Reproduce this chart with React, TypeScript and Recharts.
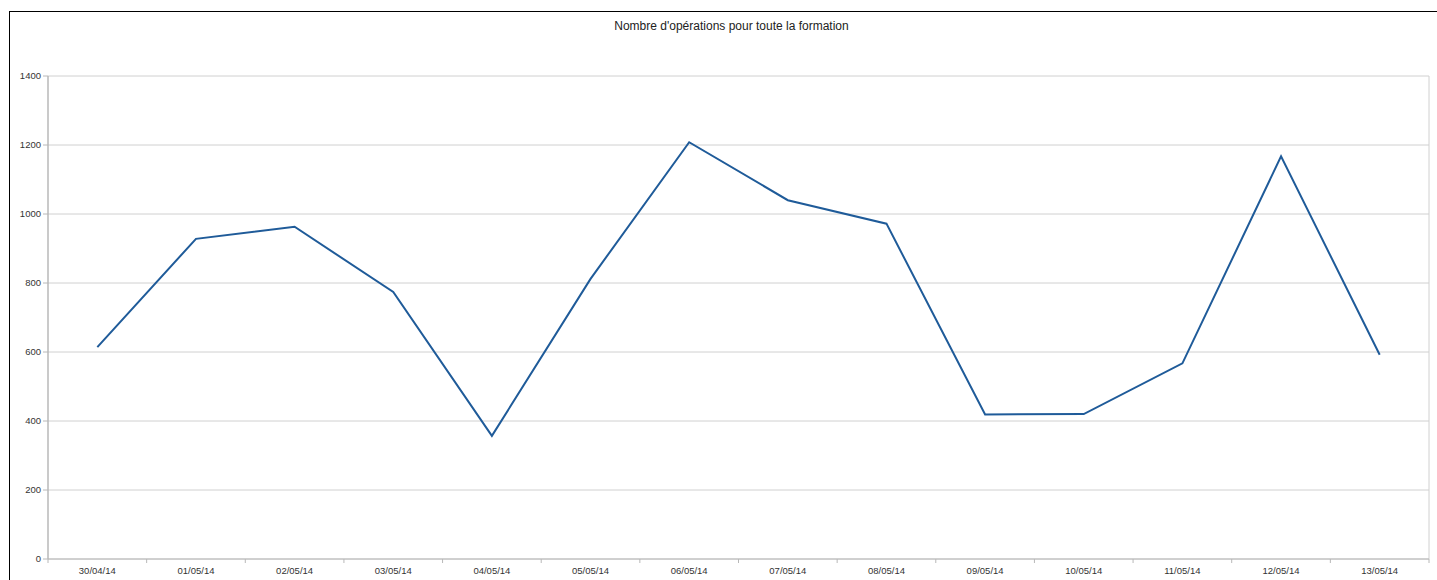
import { LineChart, Line, XAxis, YAxis, CartesianGrid } from 'recharts';

const dates = [
  '30/04/14', '01/05/14', '02/05/14', '03/05/14', '04/05/14', '05/05/14', '06/05/14',
  '07/05/14', '08/05/14', '09/05/14', '10/05/14', '11/05/14', '12/05/14', '13/05/14',
];
const operations = [614, 928, 963, 774, 357, 812, 1208, 1040, 972, 419, 420, 567, 1167, 592];
const yTicks = [0, 200, 400, 600, 800, 1000, 1200, 1400];

const data = dates.map((d, i) => ({ date: d, ops: operations[i] }));

const W = 1437;
const H = 580;
const margin = { top: 76, right: 8, left: 0, bottom: 0 };
const yAxisWidth = 48;
const plotLeft = margin.left + yAxisWidth;
const plotRight = W - margin.right;
const band = (plotRight - plotLeft) / dates.length;

const axisGray = '#b8b8b8';
const font = '"Liberation Sans", Arial, sans-serif';

// category ticks sit on band boundaries, labels in the middle
function DateTick(props: any) {
  const { x, y, payload, index } = props;
  const left = x - band / 2;
  const axisY = y - 8;
  return (
    <g>
      <line x1={left} y1={axisY} x2={left} y2={axisY + 4} stroke={axisGray} />
      {index === dates.length - 1 && (
        <line x1={left + band} y1={axisY} x2={left + band} y2={axisY + 4} stroke={axisGray} />
      )}
      <text x={x} y={axisY + 15} textAnchor="middle" fontSize={9.5} fill="#333" fontFamily={font}>
        {payload.value}
      </text>
    </g>
  );
}

export default function App() {
  return (
    <div style={{ position: 'absolute', left: 0, top: 0, width: W, height: H, background: '#fff', overflow: 'hidden' }}>
      <div style={{ position: 'absolute', left: 9, top: 11, right: 0, bottom: 0, borderTop: '1px solid #000', borderLeft: '1px solid #000' }} />
      <div style={{ position: 'absolute', left: 0, width: 1463, top: 19, textAlign: 'center', fontFamily: font, fontSize: 12, color: '#222' }}>
        Nombre d'opérations pour toute la formation
      </div>
      <div style={{ position: 'absolute', left: 0, top: 0 }}>
        <LineChart width={W} height={H} data={data} margin={margin}>
          <CartesianGrid
            stroke="#d0d0d0"
            vertical
            verticalPoints={[plotRight]}
          />
          <XAxis
            dataKey="date"
            height={21}
            interval={0}
            padding={{ left: band / 2, right: band / 2 }}
            tickLine={false}
            axisLine={{ stroke: axisGray }}
            tick={<DateTick />}
          />
          <YAxis
            width={yAxisWidth}
            domain={[0, 1400]}
            ticks={yTicks}
            interval={0}
            tickSize={5}
            tickMargin={2}
            tickLine={{ stroke: axisGray }}
            axisLine={{ stroke: axisGray, strokeWidth: 1.5 }}
            tick={{ fontSize: 9.5, fill: '#333', fontFamily: font }}
          />
          <Line
            type="linear"
            dataKey="ops"
            stroke="#1f5b99"
            strokeWidth={2}
            dot={false}
            activeDot={false}
            isAnimationActive={false}
          />
        </LineChart>
      </div>
    </div>
  );
}
